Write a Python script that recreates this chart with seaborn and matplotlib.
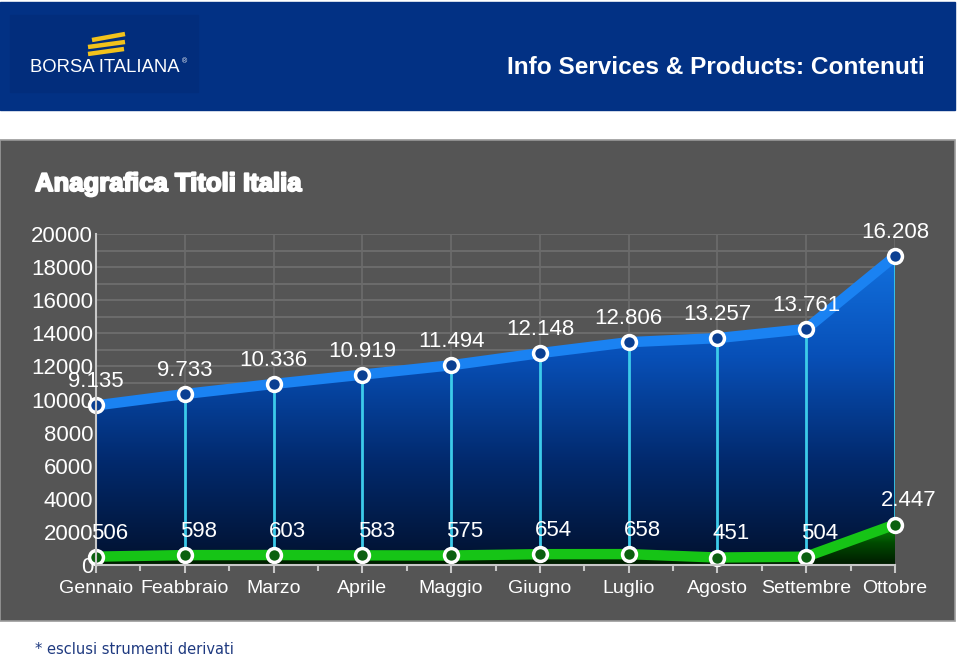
import numpy as np
import pandas as pd
import matplotlib
matplotlib.use("Agg")
import matplotlib.pyplot as plt
import matplotlib.patheffects as pe
from matplotlib.colors import LinearSegmentedColormap
from matplotlib.patches import Rectangle
from matplotlib.lines import Line2D
import seaborn as sns

# dati
mesi = ["Gennaio", "Feabbraio", "Marzo", "Aprile", "Maggio", "Giugno",
        "Luglio", "Agosto", "Settembre", "Ottobre"]
titoli = [9135, 9733, 10336, 10919, 11494, 12148, 12806, 13257, 13761, 16208]
altri = [506, 598, 603, 583, 575, 654, 658, 451, 504, 2447]
y_ticks = list(range(0, 20001, 2000))

sns.set_theme(style="dark", context="notebook")
plt.rcParams["font.family"] = ["Liberation Sans", "DejaVu Sans"]

df = pd.DataFrame({"mese": mesi, "pos": np.arange(len(mesi)),
                   "titoli": titoli, "altri": altri})
df["cumulato"] = df["titoli"] + df["altri"]

fig = plt.figure(figsize=(9.6, 6.59), dpi=100)
fig.patch.set_facecolor("white")

# intestazione
fig.add_artist(Rectangle((0, 1 - 110 / 659), 955 / 960, 108 / 659,
                         transform=fig.transFigure, color="#023184", zorder=0))
fig.add_artist(Rectangle((10 / 960, 1 - 92 / 659), 188 / 960, 77 / 659,
                         transform=fig.transFigure, color="#022d7c", zorder=0))
for (x0, y0, x1, y1) in [(92, 40, 125, 34), (88, 47, 125, 42), (88, 54, 124, 49)]:
    fig.add_artist(Line2D([x0 / 960, x1 / 960], [1 - y0 / 659, 1 - y1 / 659],
                          transform=fig.transFigure, color="#f2c21b", lw=3.2,
                          solid_capstyle="butt"))
fig.text(105 / 960, 1 - 68 / 659, "BORSA ITALIANA", color="white", fontsize=13.3,
         ha="center", va="center")
fig.text(185 / 960, 1 - 62 / 659, "®", color="white", fontsize=5, ha="center", va="center")
fig.text(925 / 960, 1 - 67 / 659, "Info Services & Products: Contenuti", color="white",
         fontsize=17.6, fontweight="bold", ha="right", va="center")

# pannello grigio
fig.add_artist(Rectangle((0, 1 - 621 / 659), 955 / 960, 481 / 659,
                         transform=fig.transFigure, facecolor="#555555",
                         edgecolor="#9a9a9a", lw=1.2, zorder=0))
fig.text(35 / 960, 1 - 184 / 659, "Anagrafica Titoli Italia", color="white",
         fontsize=18.5, fontweight="bold", ha="left", va="center",
         path_effects=[pe.withStroke(linewidth=1.4, foreground="white")])
fig.text(35 / 960, 1 - 650 / 659, "* esclusi strumenti derivati", color="#1f3a80",
         fontsize=10.5, family="DejaVu Sans", ha="left", va="center")

ax = fig.add_axes([96 / 960, 1 - 565 / 659, 799 / 960, 331 / 659])
ax.set_facecolor("none")
ax.set_xlim(0, len(mesi) - 1)
ax.set_ylim(0, 20000)

# griglia
for v in range(1000, 20001, 1000):
    ax.axhline(v, color="#707070", lw=1.2, zorder=1)
for p in df["pos"][1:]:
    ax.axvline(p, color="#6c6c6c", lw=1.2, zorder=1)

# area blu con gradiente
blu = LinearSegmentedColormap.from_list("blu", ["#01112e", "#022a6e", "#0850b8", "#1272e0"])
area_b = ax.fill_between(df["pos"], df["altri"], df["cumulato"], color="none", zorder=2)
grad = np.linspace(0, 1, 256).reshape(-1, 1)
img = ax.imshow(grad, extent=[0, len(mesi) - 1, 0, 19000], origin="lower",
                aspect="auto", cmap=blu, zorder=2)
img.set_clip_path(area_b.get_paths()[0], transform=ax.transData)

# area verde
verde = LinearSegmentedColormap.from_list("verde", ["#001a00", "#004a00", "#0a9a0a"])
area_v = ax.fill_between(df["pos"], 0, df["altri"], color="none", zorder=3)
img2 = ax.imshow(grad, extent=[0, len(mesi) - 1, 0, 2600], origin="lower",
                 aspect="auto", cmap=verde, zorder=3)
img2.set_clip_path(area_v.get_paths()[0], transform=ax.transData)

# linee verticali ciano
ax.vlines(df["pos"][1:], df["altri"][1:], df["cumulato"][1:], color="#3ccbea", lw=2, zorder=4)

sns.lineplot(data=df, x="pos", y="cumulato", color="#1a82f2", lw=7.5, ax=ax, zorder=5)
sns.lineplot(data=df, x="pos", y="altri", color="#16c416", lw=7.5, ax=ax, zorder=5)
ax.plot(df["pos"], df["cumulato"], ls="none", marker="o", ms=10, mfc="#0a3f92",
        mec="white", mew=2.5, zorder=6, clip_on=False)
ax.plot(df["pos"], df["altri"], ls="none", marker="o", ms=10, mfc="#0b6010",
        mec="white", mew=2.5, zorder=6, clip_on=False)

def fmt(v):
    return f"{v:,}".replace(",", ".")

for p, t, c in zip(df["pos"], df["titoli"], df["cumulato"]):
    ax.annotate(fmt(t), (p, c), xytext=(0, 17), textcoords="offset points",
                ha="center", va="center", color="white", fontsize=16, zorder=7,
                annotation_clip=False)
for p, a in zip(df["pos"], df["altri"]):
    ax.annotate(fmt(a), (p, a), xytext=(10, 17), textcoords="offset points",
                ha="center", va="center", color="white", fontsize=16, zorder=7,
                annotation_clip=False)

# assi
for s in ["top", "right"]:
    ax.spines[s].set_visible(False)
for s in ["left", "bottom"]:
    ax.spines[s].set_visible(True)
    ax.spines[s].set_color("#c8c8c8")
    ax.spines[s].set_linewidth(1.5)
    ax.spines[s].set_zorder(6)
ax.set_xticks(df["pos"])
ax.set_xticks(df["pos"][:-1] + 0.5, minor=True)
ax.set_xticklabels(mesi)
ax.set_yticks(y_ticks)
ax.set_yticklabels([str(v) for v in y_ticks])
ax.tick_params(axis="x", which="both", colors="#c8c8c8", direction="out",
               length=6, width=1.5, labelcolor="white", labelsize=14, pad=5, bottom=True)
ax.tick_params(axis="x", which="minor", length=4)
ax.tick_params(axis="y", length=0, labelcolor="white", labelsize=16, pad=2)
ax.set_xlabel("")
ax.set_ylabel("")
ax.grid(False)

fig.savefig("out.png", dpi=100)
